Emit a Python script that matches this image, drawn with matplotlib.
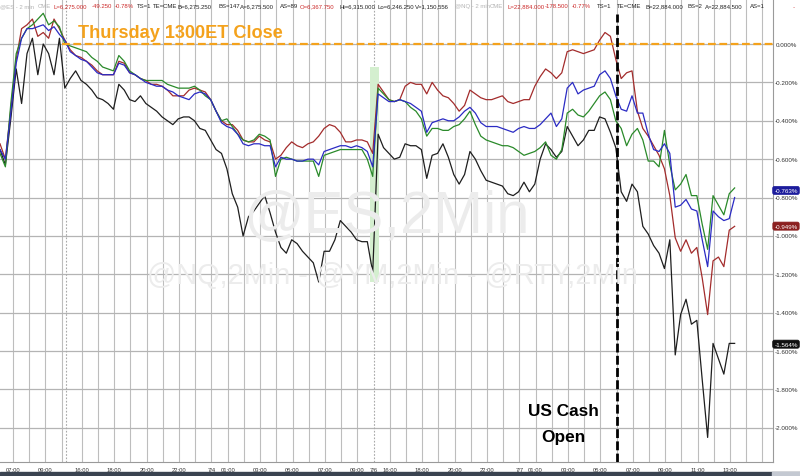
import numpy as np
import matplotlib
matplotlib.use("Agg")
import matplotlib.pyplot as plt
import matplotlib.transforms as mtransforms
from matplotlib.patches import Rectangle

plt.rcParams["font.family"] = ["Liberation Sans", "DejaVu Sans"]

# ---------------- data (percent change vs Thursday 13:00 ET close) ----------------
# 20-minute samples on the compressed session axis (hours, Thu 07:00 = 0)
t = np.round(np.arange(137) / 3 - 0.8, 3)

rty = [-0.55, -0.63, -0.39, -0.13, -0.31, -0.05, 0.03, -0.16, 0.00, -0.05, -0.16, 0.03, -0.23,
       -0.18, -0.14, -0.19, -0.21, -0.24, -0.28, -0.29, -0.31, -0.34, -0.21, -0.24, -0.29, -0.30,
       -0.27, -0.31, -0.33, -0.35, -0.38, -0.40, -0.42, -0.39, -0.38, -0.38, -0.40, -0.44, -0.45,
       -0.50, -0.55, -0.57, -0.65, -0.78, -0.85, -1.00, -0.90, -0.87, -0.83, -0.79, -0.88, -0.98,
       -1.06, -1.09, -1.02, -1.04, -1.08, -1.11, -1.14, -1.24, -1.08, -1.08, -1.02, -0.92, -0.95,
       -0.98, -1.02, -1.03, -1.03, -1.19,
       -0.47, -0.54, -0.57, -0.60, -0.59, -0.52, -0.53, -0.53, -0.55, -0.70, -0.58, -0.57, -0.52,
       -0.59, -0.68, -0.73, -0.68, -0.56, -0.60, -0.66, -0.71, -0.72, -0.73, -0.74, -0.78, -0.79,
       -0.77, -0.72, -0.77, -0.73, -0.60, -0.52, -0.55, -0.59, -0.56, -0.43, -0.48, -0.53, -0.50,
       -0.45, -0.45, -0.38, -0.39, -0.46, -0.54, -0.77, -0.82, -0.73, -0.77, -0.95, -0.99, -1.05,
       -1.09, -1.17, -1.02, -1.62, -1.41, -1.33, -1.46, -1.44, -1.75, -2.05, -1.56, -1.64, -1.72,
       -1.56, -1.56]

ym = [-0.52, -0.60, -0.34, -0.08, 0.08, 0.10, 0.13, 0.04, 0.06, 0.03, 0.13, 0.08, 0.02,
      -0.03, -0.06, -0.07, -0.09, -0.11, -0.14, -0.16, -0.16, -0.16, -0.09, -0.10, -0.15, -0.16,
      -0.18, -0.19, -0.21, -0.21, -0.22, -0.24, -0.27, -0.27, -0.27, -0.24, -0.23, -0.24, -0.25,
      -0.29, -0.35, -0.40, -0.42, -0.42, -0.45, -0.50, -0.51, -0.51, -0.48, -0.50, -0.51, -0.60,
      -0.58, -0.54, -0.51, -0.53, -0.54, -0.52, -0.51, -0.48, -0.44, -0.42, -0.43, -0.46, -0.51,
      -0.51, -0.50, -0.50, -0.51, -0.57,
      -0.21, -0.25, -0.29, -0.30, -0.29, -0.22, -0.20, -0.21, -0.21, -0.26, -0.20, -0.24, -0.27,
      -0.28, -0.31, -0.35, -0.32, -0.24, -0.26, -0.28, -0.29, -0.29, -0.28, -0.27, -0.30, -0.31,
      -0.30, -0.29, -0.29, -0.22, -0.17, -0.13, -0.15, -0.18, -0.15, -0.04, -0.03, -0.04, -0.05,
      -0.04, -0.03, 0.02, 0.06, 0.04, -0.08, -0.18, -0.15, -0.14, -0.35, -0.44, -0.48, -0.53,
      -0.58, -0.65, -0.79, -1.01, -1.08, -1.02, -1.09, -1.06, -1.22, -1.41, -1.13, -1.11, -1.16,
      -0.97, -0.95]

es = [-0.57, -0.64, -0.31, -0.05, 0.03, 0.08, 0.10, 0.13, 0.16, 0.10, 0.12, 0.09, 0.00,
      -0.01, -0.02, -0.03, -0.04, -0.07, -0.09, -0.12, -0.13, -0.14, -0.06, -0.09, -0.14, -0.16,
      -0.18, -0.19, -0.19, -0.19, -0.19, -0.21, -0.22, -0.23, -0.23, -0.23, -0.22, -0.24, -0.27,
      -0.29, -0.35, -0.40, -0.39, -0.43, -0.47, -0.50, -0.51, -0.50, -0.47, -0.48, -0.50, -0.69,
      -0.60, -0.59, -0.60, -0.61, -0.61, -0.61, -0.61, -0.69, -0.58, -0.57, -0.56, -0.55, -0.55,
      -0.55, -0.55, -0.55, -0.60, -0.69,
      -0.23, -0.26, -0.29, -0.30, -0.29, -0.30, -0.33, -0.35, -0.39, -0.48, -0.44, -0.44, -0.45,
      -0.45, -0.43, -0.42, -0.39, -0.35, -0.42, -0.48, -0.50, -0.51, -0.52, -0.53, -0.53, -0.54,
      -0.56, -0.58, -0.57, -0.56, -0.54, -0.51, -0.58, -0.60, -0.55, -0.36, -0.34, -0.37, -0.38,
      -0.35, -0.31, -0.27, -0.25, -0.29, -0.40, -0.44, -0.53, -0.47, -0.44, -0.50, -0.61, -0.61,
      -0.64, -0.45, -0.63, -0.76, -0.73, -0.68, -0.79, -0.79, -0.94, -1.07, -0.79, -0.84, -0.89,
      -0.78, -0.75]

nq = [-0.55, -0.60, -0.36, -0.10, 0.03, 0.08, 0.08, 0.09, 0.10, 0.07, 0.09, 0.05, 0.02,
      -0.04, -0.06, -0.08, -0.09, -0.12, -0.15, -0.16, -0.16, -0.16, -0.10, -0.11, -0.15, -0.16,
      -0.18, -0.20, -0.21, -0.22, -0.22, -0.24, -0.25, -0.27, -0.28, -0.29, -0.26, -0.25, -0.26,
      -0.29, -0.35, -0.41, -0.43, -0.44, -0.47, -0.52, -0.53, -0.52, -0.52, -0.53, -0.53, -0.64,
      -0.59, -0.60, -0.60, -0.61, -0.61, -0.60, -0.60, -0.63, -0.56, -0.55, -0.54, -0.53, -0.53,
      -0.54, -0.53, -0.54, -0.56, -0.64,
      -0.26, -0.28, -0.30, -0.30, -0.29, -0.30, -0.31, -0.33, -0.35, -0.46, -0.41, -0.40, -0.39,
      -0.40, -0.40, -0.38, -0.35, -0.33, -0.36, -0.41, -0.43, -0.43, -0.43, -0.44, -0.45, -0.46,
      -0.44, -0.43, -0.44, -0.44, -0.42, -0.39, -0.36, -0.43, -0.39, -0.23, -0.20, -0.26, -0.24,
      -0.23, -0.22, -0.16, -0.14, -0.18, -0.27, -0.34, -0.35, -0.27, -0.36, -0.36, -0.47, -0.55,
      -0.56, -0.52, -0.57, -0.85, -0.84, -0.81, -0.86, -0.87, -1.02, -1.16, -0.87, -0.90, -0.92,
      -0.91, -0.80]

series_colors = {"RTY": "#1e1e1e", "YM": "#a32c2c", "ES": "#2a8a2a", "NQ": "#2b2bc4"}
last_tags = [(-0.763, "#1c1c9c"), (-0.949, "#8c2020"), (-1.564, "#111111")]

# trading sessions: clock hour (since Thu 7/3 00:00) of each open and its axis position
session_open = [6.2, 15.0, 87.0]
session_axis = [-0.8, 3.25, 22.25]

tick_hours = [7, 9, 16, 18, 20, 22, 24, 25, 27, 29, 31, 33,
              87, 88, 90, 92, 94, 96, 97, 99, 101, 103, 105, 107, 109]
tick_labels = ["07:00", "09:00", "16:00", "18:00", "20:00", "22:00", "7/4", "01:00", "03:00",
               "05:00", "07:00", "09:00", "7/6", "16:00", "18:00", "20:00", "22:00", "7/7",
               "01:00", "03:00", "05:00", "07:00", "09:00", "11:00", "13:00"]
grid_hours = list(range(7, 11)) + list(range(16, 34)) + list(range(88, 112))
cash_open_hour = 102.0
y_levels = [0.0, -0.2, -0.4, -0.6, -0.8, -1.0, -1.2, -1.4, -1.6, -1.8, -2.0]


def axis_pos(h):
    k = max(i for i in range(len(session_open)) if h >= session_open[i])
    return session_axis[k] + h - session_open[k]


# ---------------- figure ----------------
W, H = 800, 477
fig = plt.figure(figsize=(W / 100, H / 100), dpi=100)
fig.patch.set_facecolor("white")
ax = fig.add_axes([0, 14 / H, 773 / W, 463 / H])
ax.set_xlim(-0.80, 46.9)
ax.set_ylim(-2.178, 0.2345)
ax.set_xticks([])
ax.set_yticks([])
for s in ["top", "left"]:
    ax.spines[s].set_visible(False)
for s in ["bottom", "right"]:
    ax.spines[s].set_color("#9a9a9a")
    ax.spines[s].set_linewidth(0.8)

# grid
for h in grid_hours:
    ax.axvline(axis_pos(h), color="#bdbdbd", lw=0.8, zorder=0.5)
for k in range(1, len(session_open)):
    ax.axvline(session_axis[k], color="#a8a8a8", lw=0.8, ls=(0, (1.5, 1.5)), zorder=0.6)
for y in y_levels:
    ax.axhline(y, color="#b4b4b4", lw=0.9, zorder=0.5)

# watermarks
fig.text(386 / W, 1 - 232 / H, "@ES,2Min", fontsize=43, color="#ececec",
         ha="center", va="baseline", zorder=0.2)
fig.text(392 / W, 1 - 284 / H, "@NQ,2Min - @YM,2Min - @RTY,2Min", fontsize=20.8,
         color="#ececec", ha="center", va="baseline", zorder=0.2)

# session-gap highlight
ax.add_patch(Rectangle((22.05, -1.24), 0.55, 1.12, color="#d4efcf", lw=0, zorder=0.7))

# series
ax.plot(t, rty, color=series_colors["RTY"], lw=0.9, zorder=3)
ax.plot(t, ym, color=series_colors["YM"], lw=0.9, zorder=3.1)
ax.plot(t, es, color=series_colors["ES"], lw=0.9, zorder=3.2)
ax.plot(t, nq, color=series_colors["NQ"], lw=0.9, zorder=3.3)

# Thursday close reference
ax.plot([3.05, 46.9], [0, 0], color="#f4a21c", lw=1.6, ls=(0, (3.5, 1.6)), zorder=4)
fig.text(78 / W, 1 - 38 / H, "Thursday 1300ET Close", fontsize=13.1, fontweight="bold",
         color="#f4a21c", ha="left", va="baseline")

# US cash open
ax.axvline(axis_pos(cash_open_hour), ymin=0, ymax=(463 - 15) / 463, color="black", lw=2.0,
           ls=(0, (3.2, 1.2)), zorder=5)
fig.text(563 / W, 1 - 416 / H, "US Cash", fontsize=12.4, fontweight="bold", color="black",
         ha="center", va="baseline")
fig.text(563 / W, 1 - 442 / H, "Open", fontsize=12.4, fontweight="bold", color="black",
         ha="center", va="baseline")

# right price axis labels
rtrans = mtransforms.blended_transform_factory(fig.transFigure, ax.transData)
for y in y_levels:
    ax.text(786 / W, y, f"{y:.3f}%", transform=rtrans, fontsize=4.5, color="#333333",
            ha="center", va="center", clip_on=False)
for val, col in last_tags:
    ax.text(786 / W, val, f"{val:.3f}%", transform=rtrans, fontsize=4.5, color="white",
            ha="center", va="center", clip_on=False,
            bbox=dict(boxstyle="round,pad=0.25,rounding_size=0.3", fc=col, ec=col, lw=0.5))

# time axis labels
btrans = mtransforms.blended_transform_factory(ax.transData, ax.transAxes)
for h, lab in zip(tick_hours, tick_labels):
    ax.text(axis_pos(h), -0.01, lab, transform=btrans, fontsize=4.2, color="#333333",
            ha="center", va="top", clip_on=False)

# header quote strip
gray, red, blk = "#b4b4b4", "#cc2a2a", "#222222"
header = [(0, "@ES - 2 min", gray), (38, "CME", gray), (53, "L=6,275.000", red),
          (92, "-49.250", red), (115, "-0.78%", red), (137, "TS=1", blk), (153, "TE=CME", blk),
          (177, "B=6,275.250", blk), (218, "BS=147", blk), (240, "A=6,275.500", blk),
          (280, "AS=89", blk), (300, "O=6,367.750", red), (340, "Hi=6,315.000", blk),
          (377, "Lo=6,246.250", blk), (415, "V=1,150,556", blk), (455, "@NQ - 2 min", gray),
          (490, "CME", gray), (507, "L=22,884.000", red), (545, "-178.500", red),
          (572, "-0.77%", red), (597, "TS=1", blk), (617, "TE=CME", blk),
          (645, "B=22,884.000", blk), (688, "BS=2", blk), (705, "A=22,884.500", blk),
          (750, "AS=1", blk), (792, "..", red)]
for x, txt, col in header:
    fig.text(x / W, 1 - 8 / H, txt, fontsize=4.3, color=col, ha="left", va="baseline")

# bottom status bar
fig.patches.append(Rectangle((0, 0), 1, 4 / H, transform=fig.transFigure, color="#3a4350",
                             zorder=0))
fig.patches.append(Rectangle((772 / W, 0), 28 / W, 4 / H, transform=fig.transFigure,
                             color="#c4c9d2", zorder=0))

fig.savefig("out.png", dpi=100)
